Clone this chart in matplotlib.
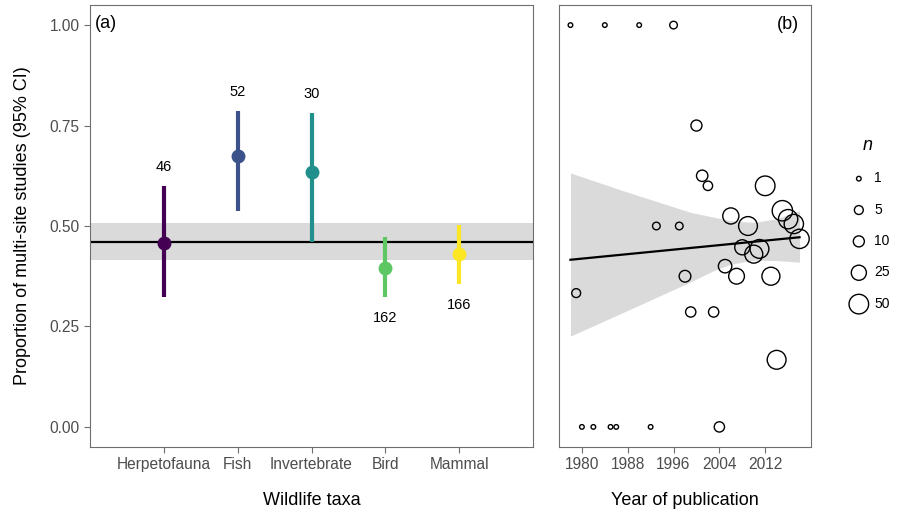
import numpy as np
import matplotlib
matplotlib.use('Agg')
from matplotlib import pyplot as plt

plt.rcParams['font.family'] = ['Liberation Sans', 'DejaVu Sans']

# panel (a): proportion of multi-site studies per taxon
taxa = ['Herpetofauna', 'Fish', 'Invertebrate', 'Bird', 'Mammal']
prop = [0.457, 0.673, 0.634, 0.395, 0.430]
ci_lo = [0.323, 0.538, 0.459, 0.324, 0.356]
ci_hi = [0.599, 0.785, 0.781, 0.472, 0.503]
n_taxa = [46, 52, 30, 162, 166]
label_above = [True, True, True, False, False]
taxa_colors = ['#440154', '#3B528B', '#21908C', '#5DC863', '#FDE725']
overall = 0.461
overall_lo = 0.416
overall_hi = 0.507

# panel (b): proportion by year of publication, point size = n
years = [1978, 1984, 1990, 1996, 2000, 2001, 2002, 2012, 1993, 1997, 2006, 2009,
         2015, 2016, 2017, 2018, 2008, 2010, 2011, 2005, 2007, 2013, 1998, 1999,
         2003, 1979, 2014, 1980, 1982, 1985, 1986, 1992, 2004]
prop_year = [1, 1, 1, 1, 0.75, 0.625, 0.6, 0.6, 0.5, 0.5, 0.525, 0.5,
             0.538, 0.517, 0.505, 0.468, 0.447, 0.43, 0.443, 0.4, 0.375, 0.375, 0.375, 0.286,
             0.286, 0.333, 0.167, 0, 0, 0, 0, 0, 0]
n_year = [1, 1, 1, 3, 10, 11, 6, 50, 3, 3, 30, 45,
          55, 48, 48, 48, 25, 40, 45, 18, 28, 40, 12, 8,
          8, 5, 45, 1, 1, 1, 1, 1, 8]

# fitted trend and its confidence band
fit_years = [1978, 2018]
fit_vals = [0.416, 0.472]
band_years = [1978, 1988, 1999, 2003, 2006, 2010, 2014, 2018]
band_hi = [0.632, 0.584, 0.534, 0.522, 0.513, 0.509, 0.518, 0.538]
band_lo = [0.226, 0.290, 0.361, 0.389, 0.405, 0.415, 0.414, 0.410]

legend_n = [1, 5, 10, 25, 50]


def size_of(n):
    d_px = 4.6 + 15.0 * np.sqrt((np.asarray(n, dtype=float) - 1) / 49)
    return (d_px * 0.72) ** 2


tick_grey = '#4d4d4d'
frame_grey = '#6e6e6e'

fig = plt.figure(figsize=(9.02, 5.13), dpi=100)
ax1 = fig.add_axes([90 / 902, 66 / 513, 443 / 902, 442 / 513])
ax2 = fig.add_axes([559 / 902, 66 / 513, 252 / 902, 442 / 513])

# ---- panel a
xpos = np.arange(1, len(taxa) + 1)
ax1.axhspan(overall_lo, overall_hi, color='#dadada', lw=0, zorder=1)
ax1.axhline(overall, color='black', lw=1.6, zorder=2)
for i in range(len(taxa)):
    ax1.plot([xpos[i], xpos[i]], [ci_lo[i], ci_hi[i]], color=taxa_colors[i],
             lw=3, solid_capstyle='butt', zorder=3)
    ax1.plot(xpos[i], prop[i], 'o', color=taxa_colors[i], ms=9, zorder=4)
    if label_above[i]:
        ax1.text(xpos[i], ci_hi[i] + 0.048, str(n_taxa[i]), ha='center', va='center', fontsize=10.5)
    else:
        ax1.text(xpos[i], ci_lo[i] - 0.052, str(n_taxa[i]), ha='center', va='center', fontsize=10.5)

ax1.set_xlim(0, 6)
ax1.set_ylim(-0.05, 1.05)
ax1.set_xticks(xpos)
ax1.set_xticklabels(taxa)
ax1.set_yticks([0, 0.25, 0.5, 0.75, 1.0])
ax1.set_yticklabels(['0.00', '0.25', '0.50', '0.75', '1.00'])
ax1.set_xlabel('Wildlife taxa', fontsize=13, labelpad=14)
ax1.set_ylabel('Proportion of multi-site studies (95% CI)', fontsize=13, labelpad=13)
ax1.text(0.01, 0.977, '(a)', transform=ax1.transAxes, ha='left', va='top', fontsize=13)

# ---- panel b
ax2.fill_between(band_years, band_lo, band_hi, color='#dadada', lw=0, zorder=1)
ax2.plot(fit_years, fit_vals, color='black', lw=1.6, zorder=2)
ax2.scatter(years, prop_year, s=size_of(n_year), facecolors='none', edgecolors='black',
            linewidths=1.0, zorder=3)
ax2.set_xlim(1976, 2020)
ax2.set_ylim(-0.05, 1.05)
ax2.set_xticks([1980, 1988, 1996, 2004, 2012])
ax2.set_yticks([])
ax2.set_xlabel('Year of publication', fontsize=13, labelpad=14)
ax2.text(0.952, 0.975, '(b)', transform=ax2.transAxes, ha='right', va='top', fontsize=13)

for ax in (ax1, ax2):
    for sp in ax.spines.values():
        sp.set_color(frame_grey)
        sp.set_linewidth(0.8)
    ax.tick_params(axis='both', colors=frame_grey, labelcolor=tick_grey,
                   labelsize=11.2, length=4, width=0.8)

# size legend
handles = [ax2.scatter([], [], s=size_of(v), facecolors='none', edgecolors='black', linewidths=1.0)
           for v in legend_n]
leg = fig.legend(handles, [str(v) for v in legend_n], loc='upper left',
                 bbox_to_anchor=(838 / 902, 1 - 130 / 513), frameon=False,
                 title='n', title_fontproperties={'style': 'italic', 'size': 13},
                 fontsize=10, labelspacing=1.25, handletextpad=0.1, borderpad=0)
leg._legend_box.align = 'center'

fig.savefig('out.png', dpi=100)
